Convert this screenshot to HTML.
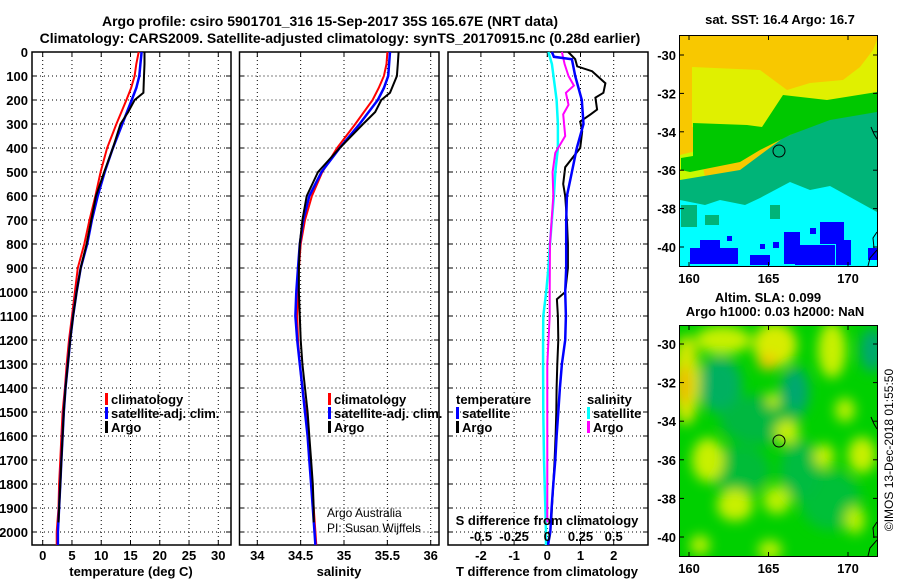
<!DOCTYPE html>
<html><head><meta charset="utf-8"><style>
html,body{margin:0;padding:0;background:#fff;}
svg{display:block;font-family:"Liberation Sans",sans-serif;}
.b{font-weight:bold;font-size:13px;fill:#000;}
.t{font-weight:bold;font-size:14px;fill:#000;}
.n{font-size:12px;fill:#000;}
</style></head><body>
<svg id="c" width="900" height="580" viewBox="0 0 900 580">
<defs><filter id="bl" x="-50%" y="-50%" width="200%" height="200%"><feGaussianBlur stdDeviation="6"/></filter>
<clipPath id="m1c"><rect x="680" y="36" width="197" height="230"/></clipPath>
<clipPath id="m2c"><rect x="680" y="326" width="197" height="230"/></clipPath></defs>
<text class="t" x="330" y="26" text-anchor="middle">Argo profile: csiro 5901701_316 15-Sep-2017 35S 165.67E (NRT data)</text>
<text class="t" x="340" y="43" text-anchor="middle">Climatology: CARS2009. Satellite-adjusted climatology: synTS_20170915.nc (0.28d earlier)</text>

<g clip-path="url(#m1c)">
<rect x="680" y="36" width="197" height="230" fill="#f8c800"/>
<polygon fill="#e0f000" points="692,67 760,70 787,90 810,83 843,80 860,67 873,50 877,40 877,95 827,100 787,100 783,127 747,127 730,143 710,127 692,127"/>
<polygon fill="#c8f800" points="680,155 700,150 705,178 680,182"/>
<polygon fill="#00b478" points="877,105 877,266 680,266 680,180 740,170 783,138 830,118"/>
<polygon fill="#00c800" points="693,123 747,125 762,127 783,95 827,100 877,92 877,112 830,120 790,135 760,150 740,162 710,168 690,172 681,170 681,158 693,156"/>
<polygon fill="#00ffff" points="680,200 705,205 720,200 745,205 760,198 790,182 810,190 830,186 877,212 877,266 680,266"/>
<rect x="681" y="205" width="16" height="22" fill="#00b478"/><rect x="705" y="215" width="14" height="10" fill="#00b478"/><rect x="770" y="205" width="10" height="14" fill="#00b478"/>
<g fill="#0000ff">
<rect x="690" y="248" width="48" height="16"/><rect x="700" y="240" width="20" height="8"/><rect x="784" y="232" width="16" height="32"/><rect x="795" y="245" width="40" height="20"/><rect x="820" y="222" width="24" height="22"/><rect x="836" y="240" width="15" height="25"/><rect x="868" y="248" width="9" height="12"/><rect x="750" y="255" width="20" height="10"/><rect x="810" y="228" width="6" height="6"/><rect x="773" y="242" width="6" height="6"/><rect x="727" y="236" width="5" height="5"/><rect x="760" y="244" width="5" height="5"/>
</g>
<path d="M871 127 L874 134 L877 139 M877 232 L873 238 L874 248 M877 250 L870 258 L868 266" stroke="#000" fill="none"/>
</g>
<rect x="679.5" y="35.5" width="198" height="231" fill="none" stroke="#000"/>
<circle cx="779" cy="151" r="6" fill="none" stroke="#000"/>
<text class="b" x="780" y="24" text-anchor="middle">sat. SST: 16.4 Argo: 16.7</text>

<g clip-path="url(#m2c)">
<rect x="680" y="326" width="197" height="230" fill="#00d000"/>
<g filter="url(#bl)">
<ellipse cx="720" cy="385" rx="22" ry="28" fill="#00b060"/><ellipse cx="795" cy="392" rx="14" ry="25" fill="#00a870"/><ellipse cx="872" cy="350" rx="12" ry="22" fill="#00a870"/><ellipse cx="760" cy="420" rx="40" ry="25" fill="#00b840"/><ellipse cx="740" cy="470" rx="30" ry="25" fill="#00bc38"/><ellipse cx="830" cy="500" rx="30" ry="30" fill="#00c038"/><ellipse cx="800" cy="470" rx="20" ry="30" fill="#00bc40"/>
<ellipse cx="723" cy="340" rx="28" ry="14" fill="#c8f000"/><ellipse cx="775" cy="345" rx="22" ry="22" fill="#d8ec00"/><ellipse cx="768" cy="362" rx="10" ry="8" fill="#f0c800"/>
<ellipse cx="832" cy="350" rx="14" ry="28" fill="#c8f000"/><ellipse cx="686" cy="380" rx="14" ry="45" fill="#d0e800"/><ellipse cx="684" cy="385" rx="7" ry="20" fill="#f0b800"/>
<ellipse cx="708" cy="460" rx="16" ry="22" fill="#c8f000"/><ellipse cx="787" cy="432" rx="12" ry="12" fill="#c8f000"/><ellipse cx="773" cy="400" rx="6" ry="8" fill="#c8f000"/><ellipse cx="824" cy="456" rx="10" ry="12" fill="#c8f000"/><ellipse cx="862" cy="455" rx="14" ry="18" fill="#c8f000"/><ellipse cx="845" cy="410" rx="10" ry="12" fill="#b8f000"/>
<ellipse cx="735" cy="505" rx="18" ry="16" fill="#c8f000"/><ellipse cx="777" cy="500" rx="14" ry="14" fill="#b8f000"/><ellipse cx="770" cy="550" rx="12" ry="10" fill="#b8f000"/><ellipse cx="700" cy="545" rx="10" ry="10" fill="#b8f000"/><ellipse cx="855" cy="520" rx="10" ry="14" fill="#b8f000"/>
</g>
<path d="M871 417 L874 424 L877 429 M877 522 L873 528 L874 538 M877 540 L870 548 L868 556" stroke="#000" fill="none"/>
</g>
<rect x="679.5" y="325.5" width="198" height="231" fill="none" stroke="#000"/>
<circle cx="779" cy="441" r="6" fill="none" stroke="#000"/>
<text class="b" x="768" y="302" text-anchor="middle">Altim. SLA: 0.099</text>
<text class="b" x="775" y="316" text-anchor="middle">Argo h1000: 0.03 h2000: NaN</text>
<text class="n" transform="translate(893,450) rotate(-90)" text-anchor="middle" font-size="13">©IMOS 13-Dec-2018 01:55:50</text>
<text class="n" x="327" y="517">Argo Australia</text>
<text class="n" x="327" y="532">PI: Susan Wijffels</text>
</svg>
<script>
const depthTicks = [0,100,200,300,400,500,600,700,800,900,1000,1100,1200,1300,1400,1500,1600,1700,1800,1900,2000];
const depthClim = [0,50,100,150,200,300,400,500,600,700,800,900,1000,1100,1200,1300,1400,1500,1600,1700,1800,1900,2000,2054];
const depthArgo = [0,50,100,170,200,250,300,400,500,600,700,800,900,1000,1100,1200,1300,1400,1500,1600,1700,1800,1900,1960];
const tempClim = [16.4,16.0,15.7,15.1,14.3,12.6,11.0,9.9,9.0,8.0,7.1,6.0,5.5,5.0,4.5,4.1,3.8,3.4,3.2,3.0,2.8,2.7,2.4,2.4];
const tempSat = [16.9,16.7,16.5,16.0,15.2,13.6,12.0,10.6,9.4,8.4,7.6,6.5,5.8,5.2,4.7,4.3,3.9,3.6,3.4,3.2,3.0,2.8,2.6,2.6];
const tempArgo = [17.4,17.4,17.3,17.2,15.7,14.6,13.3,12.0,10.5,9.1,8.3,7.5,6.5,5.8,5.2,4.7,4.3,3.9,3.6,3.4,3.2,3.0,2.8,2.7];
const salClim = [35.50,35.49,35.46,35.40,35.33,35.13,34.92,34.75,34.63,34.55,34.50,34.48,34.47,34.46,34.47,34.49,34.52,34.56,34.59,34.61,34.63,34.65,34.67,34.68];
const salSat = [35.53,35.52,35.51,35.46,35.39,35.18,34.95,34.74,34.60,34.53,34.49,34.47,34.45,34.44,34.46,34.49,34.52,34.55,34.58,34.60,34.62,34.64,34.66,34.67];
const salArgo = [35.63,35.62,35.61,35.53,35.43,35.36,35.22,34.95,34.70,34.57,34.52,34.49,34.48,34.48,34.49,34.50,34.52,34.55,34.58,34.60,34.62,34.64,34.65,34.65];
const tdSatDepth = [0,20,30,100,200,300,400,500,600,700,800,900,1000,1100,1200,1300,1400,1500,1600,1700,1800,1900,2000,2054];
const tdSat = [0.14,0.2,0.74,0.84,1.04,1.09,0.89,0.74,0.59,0.57,0.57,0.57,0.54,0.56,0.54,0.44,0.38,0.33,0.28,0.24,0.18,0.13,0.09,0.02];
const tdArgoDepth = [0,30,60,80,130,170,190,240,260,290,330,400,480,550,600,700,800,900,1000,1030,1100,1200,1300,1400,1500,1600,1700,1800,1900,1960];
const tdArgo = [0.63,0.84,0.9,1.35,1.75,1.69,1.45,1.5,1.3,0.99,1.05,0.99,0.54,0.48,0.54,0.59,0.62,0.62,0.54,0.29,0.32,0.33,0.30,0.28,0.27,0.25,0.22,0.18,0.14,0.12];
const sdSatDepth = [0,50,200,300,400,500,600,700,800,900,1000,1100,1200,1300,1500,1700,2000,2054];
const sdSat = [0.008,0.035,0.07,0.08,0.08,0.06,0.05,0.035,0.02,0.008,-0.008,-0.03,-0.032,-0.032,-0.03,-0.025,-0.01,-0.01];
const sdArgoDepth = [0,50,100,140,170,220,260,350,420,500,600,800,1000,1100,1300,1500,1700,1960];
const sdArgo = [0.11,0.13,0.16,0.2,0.14,0.16,0.12,0.135,0.06,0.04,0.045,0.02,0.018,0.018,0.0,0.0,0.0,0.0];
const tempTicks = [0,5,10,15,20,25,30];
const salTicks = [34,34.5,35,35.5,36];
const tdTicks = [-2,-1,0,1,2];
const sdTicks = [-0.5,-0.25,0,0.25,0.5];
const latTicks = [-30,-32,-34,-36,-38,-40];
const lonTicks = [160,165,170];

const NS='http://www.w3.org/2000/svg';
const svg=document.getElementById('c');
function el(tag,attrs,parent){const e=document.createElementNS(NS,tag);for(const k in attrs)e.setAttribute(k,attrs[k]);(parent||svg).appendChild(e);return e;}
const yD=d=>52+d*0.24;
const xT=v=>42.7+v*5.853;
const xS=v=>257.3+(v-34)*86.7;
const xTD=v=>547.3+v*33.2;
const xSD=v=>547.3+v*132.8;
const yTop=52,yBot=545;

function panel(name,x0,x1,ticks,fx,labels,yLabels){
  const g=el('g',{});
  
  
  depthTicks.forEach(d=>{el('line',{x1:x0,x2:x1,y1:yD(d),y2:yD(d),stroke:'#000','stroke-dasharray':'1 3'},g);
    el('line',{x1:x0,x2:x0+5,y1:yD(d),y2:yD(d),stroke:'#000'},g);el('line',{x1:x1-5,x2:x1,y1:yD(d),y2:yD(d),stroke:'#000'},g);
    if(yLabels){const t=el('text',{x:x0-4,y:yD(d)+5,'text-anchor':'end',class:'b'},g);t.textContent=d;
      
      }});
  ticks.forEach(v=>{const x=fx(v);el('line',{x1:x,x2:x,y1:yTop,y2:yBot,stroke:'#000','stroke-dasharray':'1 3'},g);
    el('line',{x1:x,x2:x,y1:yBot-5,y2:yBot,stroke:'#000'},g);el('line',{x1:x,x2:x,y1:yTop,y2:yTop+5,stroke:'#000'},g);
    if(labels){const t=el('text',{x:x,y:560,'text-anchor':'middle',class:'b'},g);t.textContent=v;
      
      }});
  el('rect',{x:x0,y:yTop,width:x1-x0,height:yBot-yTop,fill:'none',stroke:'#000','stroke-width':1.5},g);
}
panel('temperature-panel',32,231,tempTicks,xT,true,true);
panel('salinity-panel',239.5,439,salTicks,xS,true,false);
panel('difference-panel',448,648,tdTicks,xTD,true,false);

function series(name,depths,vals,fx,color,w){
  const p=el('polyline',{points:depths.map((d,i)=>fx(vals[i]).toFixed(1)+','+yD(d).toFixed(1)).join(' '),fill:'none',stroke:color,'stroke-width':w});
  
  
}
series('temp-climatology-line',depthClim,tempClim,xT,'#f00',2);
series('temp-satellite-line',depthClim,tempSat,xT,'#00f',2.5);
series('temp-argo-line',depthArgo,tempArgo,xT,'#000',2);
series('sal-climatology-line',depthClim,salClim,xS,'#f00',2);
series('sal-satellite-line',depthClim,salSat,xS,'#00f',2.5);
series('sal-argo-line',depthArgo,salArgo,xS,'#000',2);
series('sdiff-satellite-line',sdSatDepth,sdSat,xSD,'#0ff',2.5);
series('sdiff-argo-line',sdArgoDepth,sdArgo,xSD,'#f0f',2);
series('tdiff-argo-line',tdArgoDepth,tdArgo,xTD,'#000',2);
series('tdiff-satellite-line',tdSatDepth,tdSat,xTD,'#00f',2.5);

function txt(name,x,y,s,cls,anchor){const t=el('text',{x:x,y:y,class:cls||'b','text-anchor':anchor||'start'});t.textContent=s;
  
  return t;}
txt('temperature-axis-title',131,576,'temperature (deg C)','b','middle');
txt('salinity-axis-title',339,576,'salinity','b','middle');
txt('tdiff-axis-title',547,576,'T difference from climatology','b','middle');
txt('sdiff-axis-title',547,525,'S difference from climatology','b','middle');
sdTicks.forEach(v=>{txt('sdiff-tick-label',xSD(v),541,String(v),'b','middle');});

function legend(name,x,entries){
  const g=el('g',{});
  
  
  entries.forEach((e,i)=>{const y=402+i*14;
    if(e[1])el('rect',{x:x,y:y-9,width:3,height:12,fill:e[1]},g);
    const t=el('text',{x:x+(e[1]?6:0),y:y+2,class:'b'},g);t.textContent=e[0];});
}
legend('temperature-legend',105,[['climatology','#f00'],['satellite-adj. clim.','#00f'],['Argo','#000']]);
legend('salinity-legend',328,[['climatology','#f00'],['satellite-adj. clim.','#00f'],['Argo','#000']]);
legend('tdiff-legend',456,[['temperature',null],['satellite','#00f'],['Argo','#000']]);
legend('sdiff-legend',587,[['salinity',null],['satellite','#0ff'],['Argo','#f0f']]);

function mapAxes(name,y0,y30,y40,ylab){
  const g=el('g',{});
  
  
  latTicks.forEach(v=>{const y=y30+(y40-y30)*(-30-v)/10;
    el('line',{x1:680,x2:684,y1:y,y2:y,stroke:'#000'},g);el('line',{x1:873,x2:877,y1:y,y2:y,stroke:'#000'},g);
    const t=el('text',{x:676,y:y+5,'text-anchor':'end',class:'b'},g);t.textContent=v;});
  lonTicks.forEach(v=>{const x=689+(v-160)*15.9;
    el('line',{x1:x,x2:x,y1:y0,y2:y0+4,stroke:'#000'},g);el('line',{x1:x,x2:x,y1:ylab-17,y2:ylab-21,stroke:'#000'},g);
    const t=el('text',{x:x,y:ylab,'text-anchor':'middle',class:'b'},g);t.textContent=v;});
}
mapAxes('sst-map-axes',36,55,247,283);
mapAxes('sla-map-axes',326,344,537,573);
</script>
</body></html>
